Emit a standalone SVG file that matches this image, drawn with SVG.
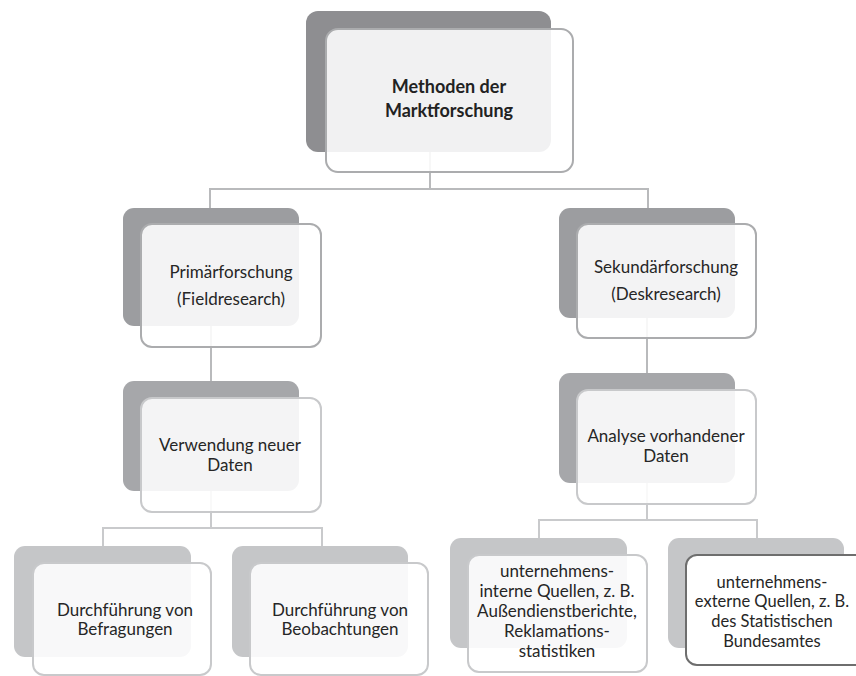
<svg xmlns="http://www.w3.org/2000/svg" width="856" height="676" viewBox="0 0 856 676">
<style>
.bg{fill:#ffffff}
.conn{fill:none;stroke:#b9babc;stroke-width:2}
.conn2{fill:none;stroke:#c9cacc;stroke-width:2}
.d1{fill:#8e8e91}
.d2{fill:#9c9da0}
.d3{fill:#a6a7aa}
.d4{fill:#c5c6c8}
.front{fill:#ffffff;fill-opacity:0.88;stroke:#abacae;stroke-width:2}
.front2{fill:#ffffff;fill-opacity:0.88;stroke:#c8c9cb;stroke-width:2}
.frontx{fill:#ffffff;stroke:#6e6e6e;stroke-width:2}
text{font-family:Lato,"Open Sans","Liberation Sans",sans-serif;fill:#262626;text-anchor:middle;font-size:17px}
.b{font-weight:bold;font-size:18px;fill:#222222}
.s{font-size:17px}
.x{font-size:16.5px}
</style>
<rect class="bg" x="0" y="0" width="856" height="676"/>
<g id="connectors">
<path class="conn" d="M430 150 V189 M210 189 H648 M210 188 V208 M648 188 V208"/>
<path class="conn" d="M211 326 V381 M647 318 V373"/>
<path class="conn2" d="M211 491 V528 M103 528 H322 M103 527 V546 M322 527 V546"/>
<path class="conn2" d="M647 483 V520 M539 520 H757 M539 519 V538 M757 519 V538"/>
</g>
<g id="n-methoden">
<rect class="d1" x="306" y="11" width="245" height="141" rx="12"/>
<rect class="front" x="326" y="29" width="247" height="143" rx="12"/>
<text class="b" x="449" y="93">Methoden der</text>
<text class="b" x="449" y="117">Marktforschung</text>
</g>
<g id="n-primaer">
<rect class="d2" x="123" y="208" width="176" height="118" rx="11"/>
<rect class="front" x="141" y="224" width="180" height="123" rx="11"/>
<text x="231" y="278">Primärforschung</text>
<text x="231" y="305">(Fieldresearch)</text>
</g>
<g id="n-sekundaer">
<rect class="d2" x="559" y="208" width="176" height="110" rx="11"/>
<rect class="front" x="577" y="224" width="179" height="114" rx="11"/>
<text x="666" y="273">Sekundärforschung</text>
<text x="666" y="300">(Deskresearch)</text>
</g>
<g id="n-verwendung">
<rect class="d3" x="123" y="381" width="176" height="110" rx="11"/>
<rect class="front2" x="141" y="398" width="180" height="114" rx="11"/>
<text x="230" y="451">Verwendung neuer</text>
<text x="230" y="471">Daten</text>
</g>
<g id="n-analyse">
<rect class="d3" x="559" y="373" width="176" height="110" rx="11"/>
<rect class="front2" x="577" y="390" width="179" height="114" rx="11"/>
<text x="666" y="442">Analyse vorhandener</text>
<text x="666" y="462">Daten</text>
</g>
<g id="n-befragungen">
<rect class="d4" x="14" y="546" width="177" height="111" rx="11"/>
<rect class="front2" x="33" y="563" width="178" height="112" rx="11"/>
<text x="125" y="616">Durchführung von</text>
<text x="125" y="635">Befragungen</text>
</g>
<g id="n-beobachtungen">
<rect class="d4" x="232" y="546" width="176" height="111" rx="11"/>
<rect class="front2" x="250" y="563" width="178" height="112" rx="11"/>
<text x="340" y="616">Durchführung von</text>
<text x="340" y="635">Beobachtungen</text>
</g>
<g id="n-intern">
<rect class="d4" x="450" y="538" width="177" height="110" rx="11"/>
<rect class="front2" x="468" y="555" width="179" height="117" rx="11"/>
<text class="s" x="557" y="577">unternehmens-</text>
<text class="s" x="557" y="597">interne Quellen, z. B.</text>
<text class="s" x="557" y="617">Außendienstberichte,</text>
<text class="s" x="557" y="637">Reklamations-</text>
<text class="s" x="557" y="657">statistiken</text>
</g>
<g id="n-extern">
<rect class="d4" x="668" y="538" width="176" height="110" rx="11"/>
<rect class="frontx" x="686" y="555" width="180" height="110" rx="11"/>
<text class="x" x="772" y="588">unternehmens-</text>
<text class="x" x="772" y="607">externe Quellen, z. B.</text>
<text class="x" x="772" y="627">des Statistischen</text>
<text class="x" x="772" y="647">Bundesamtes</text>
</g>
</svg>
